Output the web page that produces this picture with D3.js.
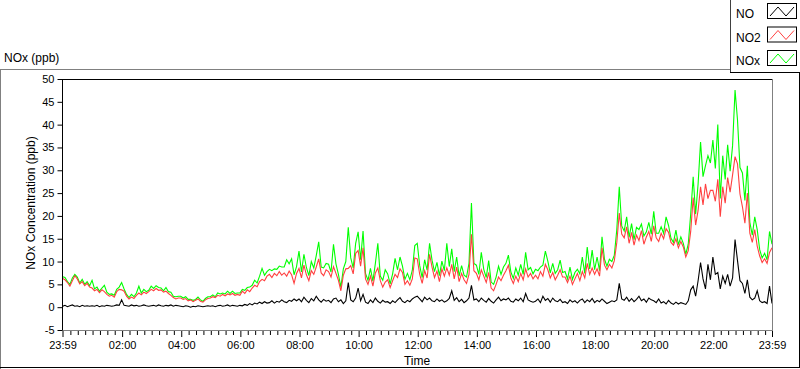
<!DOCTYPE html>
<html>
<head>
<meta charset="utf-8">
<script src="https://cdn.jsdelivr.net/npm/d3@7/dist/d3.min.js"></script>
<style>
  html, body { margin: 0; padding: 0; background: #fff; }
  svg { display: block; font-family: "Liberation Sans", Arial, sans-serif; }
</style>
</head>
<body>
<div id="chart"></div>
<script>
// Samples every 5 minutes, from 23:59 the day before to 23:59
var startTime = new Date(2020, 0, 1, 23, 59);
var stepMinutes = 5;

// NO2 (ppb), one row per hour
var no2Values = [
  6.3, 6.0, 5.4, 4.6, 5.8, 6.9, 6.2, 5.1, 5.6, 4.7, 5.2, 4.4,
  4.2, 3.6, 3.9, 3.2, 3.8, 3.4, 2.8, 2.4, 2.6, 2.2, 3.4, 3.9,
  3.8, 3.5, 2.4, 1.8, 2.2, 1.9, 2.6, 3.1, 2.7, 3.3, 3.0, 3.4,
  3.9, 3.6, 4.1, 3.7, 3.8, 3.3, 3.5, 3.0, 2.6, 2.1, 1.8, 2.0,
  2.0, 1.7, 1.9, 1.4, 1.6, 1.2, 1.5, 1.8, 1.3, 1.1, 1.6, 1.9,
  2.0, 2.3, 2.1, 2.6, 2.4, 2.8, 2.5, 2.9, 2.7, 3.0, 2.6, 2.8,
  2.6, 3.5, 3.0, 3.8, 3.4, 4.2, 4.8, 4.5, 5.6, 6.1, 5.8, 6.8,
  7.2, 6.5, 7.4, 6.9, 7.8, 7.0, 7.5, 6.8, 7.9, 7.1, 5.2, 7.4,
  8.5, 6.4, 9.2, 7.1, 5.8, 8.0, 7.2, 8.8, 10.6, 7.5, 6.9, 8.2,
  7.8, 6.6, 8.9, 7.4, 5.9, 3.6, 7.0, 8.4, 8.5, 9.1, 7.3, 11.8,
  12.4, 9.0, 13.0, 6.2, 5.0, 6.8, 4.6, 7.5, 8.6, 5.8, 4.4, 5.5,
  6.0, 4.3, 5.8, 7.2, 6.5, 8.4, 7.6, 5.0, 5.8, 4.8, 6.2, 10.8,
  10.6, 7.2, 5.2, 8.0, 6.4, 11.6, 8.8, 6.5, 7.9, 5.6, 8.4, 6.8,
  8.6, 7.0, 9.4, 6.2, 8.8, 5.6, 7.4, 6.0, 5.2, 7.2, 16.0, 8.0,
  7.4, 6.0, 8.2, 6.8, 5.4, 7.6, 4.2, 3.6, 5.0, 6.6, 5.8, 7.0,
  8.0, 9.2, 6.4, 5.2, 6.8, 5.6, 7.4, 6.0, 8.4, 6.6, 7.4, 6.2,
  7.0, 6.2, 7.8, 6.8, 9.4, 8.2, 6.4, 7.6, 6.0, 7.0, 8.2, 6.6,
  6.6, 5.4, 6.8, 5.0, 6.2, 7.4, 5.8, 7.8, 6.4, 9.6, 7.2, 8.6,
  7.2, 8.4, 6.8, 13.0, 9.2, 8.2, 9.4, 8.6, 10.2, 14.2, 20.6, 16.0,
  15.2, 17.6, 14.0, 16.4, 13.6, 15.8, 14.6, 16.8, 13.8, 15.4, 16.6, 14.4,
  17.8, 15.2, 14.4, 16.2, 15.0, 17.2, 16.4, 14.2, 13.6, 15.0, 13.0, 14.4,
  13.2, 11.0, 12.4, 16.6, 24.0, 18.0, 21.2, 26.4, 22.4, 27.0, 23.8, 25.6,
  25.6, 23.2, 28.0, 19.8, 26.4, 22.8, 28.4, 25.2, 29.0, 33.0, 31.4, 24.8,
  22.0, 18.4, 25.0, 16.2, 14.2, 17.0, 13.4, 11.2, 9.8, 10.6, 9.6, 12.0,
  13.0
];

// NOx (ppb)
var noxValues = [
  6.7, 6.5, 5.6, 5.0, 6.4, 7.2, 6.6, 5.3, 6.1, 5.0, 5.6, 4.7,
  5.9, 4.0, 4.4, 3.5, 4.2, 4.8, 3.3, 2.8, 2.9, 2.6, 3.9, 4.4,
  5.4, 4.0, 2.8, 2.1, 2.8, 2.3, 3.1, 4.6, 3.1, 3.9, 3.4, 3.7,
  4.6, 4.1, 4.7, 4.3, 4.2, 3.6, 4.3, 3.4, 3.3, 2.4, 2.3, 2.4,
  2.4, 2.0, 2.3, 1.7, 1.7, 1.5, 1.7, 2.2, 1.6, 1.3, 1.9, 2.3,
  2.3, 2.7, 2.3, 3.1, 2.9, 3.1, 2.9, 3.5, 3.0, 3.5, 3.0, 3.1,
  3.1, 3.9, 3.7, 4.3, 4.4, 4.8, 5.9, 5.3, 6.8, 8.5, 7.0, 7.8,
  8.3, 8.0, 8.4, 8.3, 9.0, 8.8, 8.8, 10.4, 9.5, 10.6, 7.1, 8.9,
  12.3, 7.7, 11.6, 8.7, 6.9, 10.0, 8.6, 11.3, 14.3, 8.8, 8.6, 9.6,
  9.4, 7.7, 13.8, 9.5, 7.2, 4.4, 8.4, 10.0, 17.5, 10.8, 8.6, 14.0,
  16.5, 10.4, 16.7, 7.4, 5.9, 8.5, 5.7, 9.6, 14.0, 6.8, 5.9, 8.2,
  7.3, 5.1, 7.3, 10.7, 8.2, 11.0, 9.0, 6.1, 7.4, 6.0, 8.1, 13.5,
  14.0, 9.1, 6.5, 10.4, 8.1, 14.0, 10.3, 7.8, 9.8, 6.9, 10.1, 8.0,
  14.0, 8.9, 12.8, 7.8, 11.0, 6.8, 9.1, 7.0, 6.6, 9.6, 22.8, 9.6,
  9.2, 7.2, 12.0, 8.3, 6.5, 10.2, 5.5, 5.0, 6.6, 9.0, 7.2, 8.8,
  9.6, 11.4, 7.7, 6.3, 8.6, 7.0, 9.4, 7.2, 12.0, 8.2, 8.7, 7.3,
  8.3, 8.0, 8.8, 9.2, 12.3, 10.1, 7.5, 9.6, 7.4, 8.2, 10.3, 7.6,
  7.8, 6.2, 8.8, 6.1, 7.6, 8.3, 7.3, 11.0, 7.4, 13.2, 8.4, 12.5,
  8.2, 11.0, 8.0, 15.4, 10.5, 9.0, 10.5, 10.0, 11.4, 17.0, 26.4, 17.8,
  16.7, 19.8, 15.3, 18.3, 14.8, 17.5, 17.0, 18.2, 15.6, 16.5, 18.6, 16.0,
  21.0, 16.2, 16.2, 17.6, 16.2, 19.8, 17.9, 15.1, 14.2, 16.9, 13.7, 15.4,
  14.0, 11.6, 13.8, 20.4, 28.6, 20.4, 27.0, 36.2, 28.6, 31.0, 33.2, 31.6,
  36.6, 30.4, 40.0, 23.8, 33.2, 28.0, 35.6, 29.8, 35.4, 47.6, 41.0, 30.6,
  29.4, 23.4, 31.0, 18.6, 15.8, 19.8, 17.0, 12.6, 10.8, 11.8, 10.4, 16.6,
  13.8
];

// NO (ppb)
var noValues = [
  0.2, 0.4, 0.1, 0.3, 0.5, 0.2, 0.3, 0.1, 0.4, 0.2, 0.3, 0.2,
  0.3, 0.2, 0.4, 0.1, 0.3, 0.2, 0.4, 0.3, 0.2, 0.3, 0.5, 0.4,
  1.6, 0.4, 0.3, 0.2, 0.5, 0.3, 0.4, 0.2, 0.3, 0.5, 0.3, 0.2,
  0.3, 0.4, 0.2, 0.5, 0.3, 0.2, 0.4, 0.3, 0.5, 0.2, 0.4, 0.3,
  0.2, 0.1, 0.3, 0.2, 0.0, 0.2, 0.1, 0.3, 0.2, 0.1, 0.2, 0.3,
  0.2, 0.3, 0.1, 0.3, 0.4, 0.2, 0.3, 0.5, 0.2, 0.4, 0.3, 0.2,
  0.4, 0.3, 0.6, 0.4, 0.8, 0.5, 0.9, 0.7, 1.1, 0.8, 1.2, 0.9,
  1.0, 1.4, 0.9, 1.3, 1.1, 1.6, 1.2, 1.0, 1.5, 1.3, 1.8, 1.4,
  1.8, 1.2, 2.2, 1.5, 1.0, 1.9, 1.4, 2.4, 1.6, 1.1, 1.7, 1.3,
  1.5, 1.0, 1.8, 2.0, 1.2, 1.6, 0.8, 1.4, 5.4, 1.6, 1.2, 2.0,
  4.2, 1.4, 2.8, 1.1, 0.8, 1.6, 1.0, 2.0, 1.3, 0.9, 1.5, 1.1,
  1.2, 0.8, 1.4, 1.0, 1.6, 2.1, 1.3, 1.0, 1.5, 1.2, 1.8, 2.2,
  2.4, 1.8, 1.2, 2.2, 1.6, 2.0, 1.4, 1.2, 1.8, 1.3, 1.6, 1.1,
  1.4, 1.9, 3.6, 1.5, 2.1, 1.2, 1.7, 1.0, 1.4, 2.0, 4.8, 1.6,
  1.8, 1.2, 2.0, 1.5, 1.1, 1.9, 1.3, 0.9, 1.6, 2.2, 1.4, 1.8,
  1.6, 2.0, 1.3, 1.1, 1.8, 1.4, 2.0, 1.2, 3.0, 1.6, 1.3, 1.1,
  1.3, 1.8, 1.0, 2.4, 1.5, 1.9, 1.1, 2.0, 1.4, 1.2, 1.7, 1.0,
  1.2, 0.8, 1.6, 1.1, 1.4, 0.9, 1.5, 1.8, 1.0, 1.6, 1.2, 1.9,
  1.0, 1.5, 1.2, 1.8, 1.3, 0.8, 1.1, 1.4, 1.2, 1.6, 5.2, 1.8,
  1.5, 2.2, 1.3, 1.9, 1.2, 1.7, 2.4, 1.4, 1.8, 1.1, 2.0, 1.6,
  1.4, 1.0, 1.8, 0.9, 1.2, 0.7, 1.5, 0.9, 0.6, 1.1, 0.7, 1.0,
  0.8, 0.6, 1.4, 3.8, 4.6, 2.4, 5.8, 9.8, 6.2, 4.0, 9.4, 6.0,
  11.0, 7.2, 7.6, 4.0, 6.8, 5.2, 7.2, 4.6, 6.4, 14.8, 10.2, 5.8,
  5.2, 3.0, 6.0, 2.2, 1.6, 2.0, 3.6, 1.4, 1.0, 1.2, 0.8, 4.6,
  0.8
];

var yTicks = [-5, 0, 5, 10, 15, 20, 25, 30, 35, 40, 45, 50];
var seriesNames = ["NO", "NO2", "NOx"];
var seriesColors = ["#000000", "#ff4040", "#00ff00"];

var svgWidth = 800;
var svgHeight = 369;

// Plot area inside the graph frame
var plot = { left: 62, right: 772, top: 79, bottom: 330 };

var svg = d3.select("#chart")
  .append("svg")
  .attr("width", svgWidth)
  .attr("height", svgHeight);

var times = noxValues.map(function(d, i) {
  return d3.timeMinute.offset(startTime, i * stepMinutes);
});
var endTime = times[times.length - 1];

var xScale = d3.scaleTime()
  .domain([startTime, endTime])
  .range([plot.left + 0.5, plot.right]);

var yScale = d3.scaleLinear()
  .domain([-5, 50])
  .range([plot.bottom, plot.top]);

// Outer graph frame (sunken look)
svg.append("line").attr("x1", 0).attr("x2", 730).attr("y1", 69.5).attr("y2", 69.5)
  .attr("stroke", "#808080");
svg.append("line").attr("x1", 0.5).attr("x2", 0.5).attr("y1", 69).attr("y2", 369)
  .attr("stroke", "#808080");
svg.append("line").attr("x1", 0).attr("x2", 800).attr("y1", 367.5).attr("y2", 367.5)
  .attr("stroke", "#000");
svg.append("line").attr("x1", 799.5).attr("x2", 799.5).attr("y1", 72).attr("y2", 368)
  .attr("stroke", "#000");

// Graph caption
svg.append("text")
  .attr("x", 4)
  .attr("y", 62)
  .attr("font-size", 12)
  .text("NOx (ppb)");

// Clip for the traces
svg.append("clipPath").attr("id", "plotClip")
  .append("rect")
  .attr("x", plot.left + 1).attr("y", plot.top)
  .attr("width", plot.right - plot.left - 1).attr("height", plot.bottom - plot.top);

var traces = svg.append("g").attr("clip-path", "url(#plotClip)");

function traceLine(values) {
  return d3.line()
    .x(function(d, i) { return xScale(times[i]); })
    .y(function(d) { return yScale(d); })(values);
}

// Draw NOx first, then NO2 over it, then NO
traces.append("path").attr("d", traceLine(noxValues))
  .attr("fill", "none").attr("stroke", seriesColors[2]).attr("stroke-width", 1.1);
traces.append("path").attr("d", traceLine(no2Values))
  .attr("fill", "none").attr("stroke", seriesColors[1]).attr("stroke-width", 1.1);
traces.append("path").attr("d", traceLine(noValues))
  .attr("fill", "none").attr("stroke", seriesColors[0]).attr("stroke-width", 1.1);

// Plot borders: dark top/left, grey right/bottom
svg.append("line").attr("x1", plot.left).attr("x2", plot.right).attr("y1", plot.top + 0.5).attr("y2", plot.top + 0.5)
  .attr("stroke", "#000");
svg.append("line").attr("x1", plot.left + 0.5).attr("x2", plot.left + 0.5).attr("y1", plot.top).attr("y2", plot.bottom + 1)
  .attr("stroke", "#000");
svg.append("line").attr("x1", plot.right + 0.5).attr("x2", plot.right + 0.5).attr("y1", plot.top).attr("y2", plot.bottom + 1)
  .attr("stroke", "#808080");
svg.append("line").attr("x1", plot.left).attr("x2", plot.right + 1).attr("y1", plot.bottom + 0.5).attr("y2", plot.bottom + 0.5)
  .attr("stroke", "#808080");

// Y axis
var yAxis = d3.axisLeft(yScale)
  .tickValues(yTicks)
  .tickSize(5)
  .tickPadding(3)
  .tickFormat(d3.format("d"));

var yAxisG = svg.append("g")
  .attr("transform", "translate(" + (plot.left + 0.5) + ",0)")
  .call(yAxis);
yAxisG.select(".domain").remove();
yAxisG.selectAll("text").attr("font-size", 11).attr("font-family", "Liberation Sans, Arial, sans-serif")
  .attr("fill", "#000").text(function(d) { return d < 0 ? "-" + Math.abs(d) : d; });

// X axis: major ticks at start, every two hours and end; minor every 15 minutes
var majorTicks = [startTime].concat(d3.timeHour.every(2).range(d3.timeMinute.offset(startTime, 5), endTime)).concat([endTime]);
var minorTicks = d3.timeMinute.every(15).range(d3.timeMinute.offset(startTime, 5), endTime)
  .filter(function(t) { return !(t.getMinutes() === 0 && t.getHours() % 2 === 0); });

var timeFormat = d3.timeFormat("%H:%M");

var xMinor = svg.append("g")
  .attr("transform", "translate(0," + (plot.bottom + 1) + ")")
  .call(d3.axisBottom(xScale).tickValues(minorTicks).tickSize(4).tickFormat(""));
xMinor.select(".domain").remove();

var xMajor = svg.append("g")
  .attr("transform", "translate(0," + (plot.bottom + 1) + ")")
  .call(d3.axisBottom(xScale).tickValues(majorTicks).tickSize(6).tickPadding(4).tickFormat(timeFormat));
xMajor.select(".domain").remove();
xMajor.selectAll("text").attr("font-size", 11).attr("font-family", "Liberation Sans, Arial, sans-serif")
  .attr("fill", "#000");

// Axis titles
svg.append("text")
  .attr("x", (plot.left + plot.right) / 2)
  .attr("y", 365)
  .attr("text-anchor", "middle")
  .attr("font-size", 12)
  .text("Time");

svg.append("text")
  .attr("transform", "translate(35,203) rotate(-90)")
  .attr("text-anchor", "middle")
  .attr("font-size", 12)
  .text("NOx Concentration (ppb)");

// Plot legend box in the top right corner
var legend = svg.append("g");
legend.append("rect")
  .attr("x", 730.5).attr("y", -1).attr("width", 69).attr("height", 73)
  .attr("fill", "#fff").attr("stroke", "none");
legend.append("line").attr("x1", 730.5).attr("x2", 730.5).attr("y1", 0).attr("y2", 72)
  .attr("stroke", "#404040");
legend.append("line").attr("x1", 730).attr("x2", 800).attr("y1", 72.5).attr("y2", 72.5)
  .attr("stroke", "#000");

var legendRows = legend.selectAll("g.row")
  .data(seriesNames)
  .enter()
  .append("g")
  .attr("class", "row")
  .attr("transform", function(d, i) { return "translate(0," + (i * 23.5) + ")"; });

legendRows.append("text")
  .attr("x", 736)
  .attr("y", 18)
  .attr("font-size", 12)
  .text(function(d) { return d; });

legendRows.append("rect")
  .attr("x", 767.5).attr("y", 3.5).attr("width", 29).attr("height", 15)
  .attr("fill", "#fff").attr("stroke", "#000");

legendRows.append("polyline")
  .attr("points", "770,16 778,7 786,16 794,7")
  .attr("fill", "none")
  .attr("stroke", function(d, i) { return seriesColors[i]; });
</script>
</body>
</html>
